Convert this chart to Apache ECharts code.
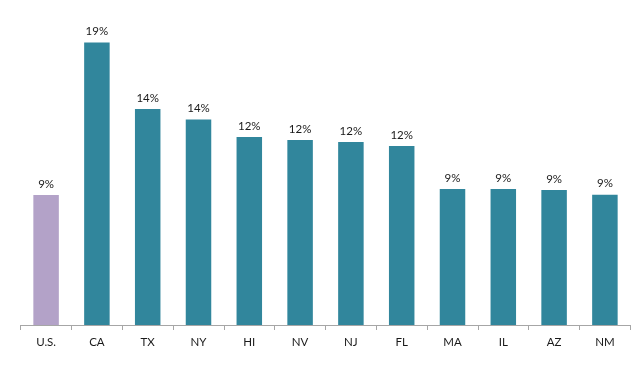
<!DOCTYPE html>
<html>
<head>
<meta charset="utf-8">
<script src="https://cdn.jsdelivr.net/npm/echarts@6/dist/echarts.min.js"></script>
<style>html,body{margin:0;padding:0;background:#fff}#c{width:644px;height:369px}</style>
</head>
<body>
<div id="c"></div>
<script>
const categories = ['U.S.', 'CA', 'TX', 'NY', 'HI', 'NV', 'NJ', 'FL', 'MA', 'IL', 'AZ', 'NM'];
const values = [9.0, 19.55, 14.96, 14.22, 13.02, 12.81, 12.67, 12.40, 9.42, 9.42, 9.35, 9.02];
const valueLabels = ['9%', '19%', '14%', '14%', '12%', '12%', '12%', '12%', '9%', '9%', '9%', '9%'];
const barColors = ['#B3A2C8', '#31869C', '#31869C', '#31869C', '#31869C', '#31869C', '#31869C', '#31869C', '#31869C', '#31869C', '#31869C', '#31869C'];

const chart = echarts.init(document.getElementById('c'));
chart.setOption({
  animation: false,
  grid: { left: 20.7, right: 13.7, top: 36.1, bottom: 44 },
  xAxis: {
    type: 'category',
    data: categories,
    boundaryGap: true,
    axisLine: { lineStyle: { color: '#A6A6A6', width: 1 } },
    axisTick: { show: true, alignWithLabel: false, length: 5, lineStyle: { color: '#A6A6A6' } },
    axisLabel: { color: '#1a1a1a', fontFamily: 'Lato', fontSize: 11.5, margin: 11 }
  },
  yAxis: {
    type: 'value', min: 0, max: 20, show: false,
    splitLine: { show: false }
  },
  series: [{
    type: 'bar',
    barWidth: 25.5,
    data: values.map((v, i) => ({ value: v, itemStyle: { color: barColors[i] } })),
    label: {
      show: true, position: 'top', distance: 5,
      color: '#1a1a1a', fontFamily: 'Lato', fontSize: 11.5,
      formatter: p => valueLabels[p.dataIndex]
    }
  }]
});
</script>
</body>
</html>
